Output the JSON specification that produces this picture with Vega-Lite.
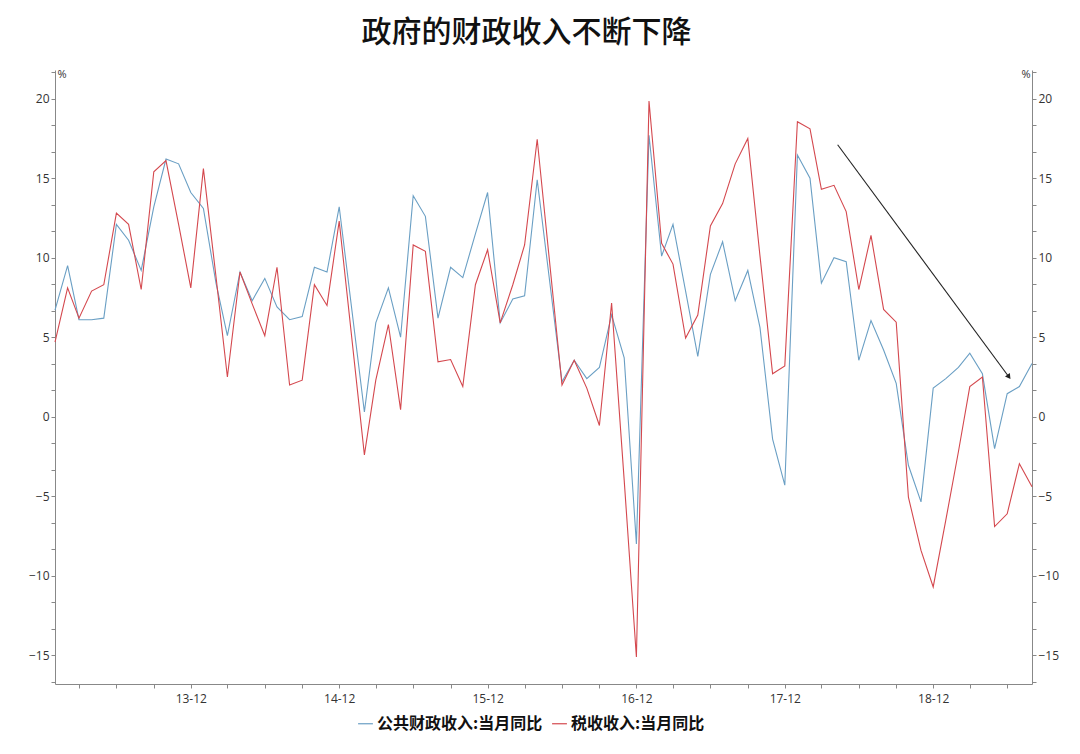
{
  "$schema": "https://vega.github.io/schema/vega-lite/v6.json",
  "width": 977,
  "height": 614,
  "autosize": {"type": "none"},
  "padding": {"left": 55, "top": 70, "right": 48, "bottom": 70},
  "background": "white",
  "title": {"text": "政府的财政收入不断下降", "font": "Noto Sans CJK SC", "fontSize": 30, "fontWeight": 500, "color": "#111111", "anchor": "middle", "dx": -17, "offset": 18},
  "datasets": {
    "series": [
      {"d": "2013-01-01", "公共财政收入:当月同比": 6.7, "税收收入:当月同比": 4.7},
      {"d": "2013-02-01", "公共财政收入:当月同比": 9.5, "税收收入:当月同比": 8.1},
      {"d": "2013-03-01", "公共财政收入:当月同比": 6.1, "税收收入:当月同比": 6.2},
      {"d": "2013-04-01", "公共财政收入:当月同比": 6.1, "税收收入:当月同比": 7.9},
      {"d": "2013-05-01", "公共财政收入:当月同比": 6.2, "税收收入:当月同比": 8.3},
      {"d": "2013-06-01", "公共财政收入:当月同比": 12.1, "税收收入:当月同比": 12.8},
      {"d": "2013-07-01", "公共财政收入:当月同比": 11.1, "税收收入:当月同比": 12.1},
      {"d": "2013-08-01", "公共财政收入:当月同比": 9.2, "税收收入:当月同比": 8.0},
      {"d": "2013-09-01", "公共财政收入:当月同比": 13.2, "税收收入:当月同比": 15.4},
      {"d": "2013-10-01", "公共财政收入:当月同比": 16.2, "税收收入:当月同比": 16.1},
      {"d": "2013-11-01", "公共财政收入:当月同比": 15.9, "税收收入:当月同比": 12.1},
      {"d": "2013-12-01", "公共财政收入:当月同比": 14.1, "税收收入:当月同比": 8.1},
      {"d": "2014-01-01", "公共财政收入:当月同比": 13.1, "税收收入:当月同比": 15.6},
      {"d": "2014-02-01", "公共财政收入:当月同比": 8.4, "税收收入:当月同比": 8.8},
      {"d": "2014-03-01", "公共财政收入:当月同比": 5.1, "税收收入:当月同比": 2.5},
      {"d": "2014-04-01", "公共财政收入:当月同比": 9.1, "税收收入:当月同比": 9.1},
      {"d": "2014-05-01", "公共财政收入:当月同比": 7.3, "税收收入:当月同比": 7.1},
      {"d": "2014-06-01", "公共财政收入:当月同比": 8.7, "税收收入:当月同比": 5.1},
      {"d": "2014-07-01", "公共财政收入:当月同比": 6.9, "税收收入:当月同比": 9.4},
      {"d": "2014-08-01", "公共财政收入:当月同比": 6.1, "税收收入:当月同比": 2.0},
      {"d": "2014-09-01", "公共财政收入:当月同比": 6.3, "税收收入:当月同比": 2.3},
      {"d": "2014-10-01", "公共财政收入:当月同比": 9.4, "税收收入:当月同比": 8.3},
      {"d": "2014-11-01", "公共财政收入:当月同比": 9.1, "税收收入:当月同比": 7.0},
      {"d": "2014-12-01", "公共财政收入:当月同比": 13.2, "税收收入:当月同比": 12.3},
      {"d": "2015-02-01", "公共财政收入:当月同比": 0.3, "税收收入:当月同比": -2.4},
      {"d": "2015-03-01", "公共财政收入:当月同比": 5.9, "税收收入:当月同比": 2.3},
      {"d": "2015-04-01", "公共财政收入:当月同比": 8.1, "税收收入:当月同比": 5.8},
      {"d": "2015-05-01", "公共财政收入:当月同比": 5.0, "税收收入:当月同比": 0.45},
      {"d": "2015-06-01", "公共财政收入:当月同比": 13.9, "税收收入:当月同比": 10.8},
      {"d": "2015-07-01", "公共财政收入:当月同比": 12.6, "税收收入:当月同比": 10.4},
      {"d": "2015-08-01", "公共财政收入:当月同比": 6.2, "税收收入:当月同比": 3.45},
      {"d": "2015-09-01", "公共财政收入:当月同比": 9.4, "税收收入:当月同比": 3.6},
      {"d": "2015-10-01", "公共财政收入:当月同比": 8.75, "税收收入:当月同比": 1.9},
      {"d": "2015-11-01", "公共财政收入:当月同比": 11.5, "税收收入:当月同比": 8.3},
      {"d": "2015-12-01", "公共财政收入:当月同比": 14.1, "税收收入:当月同比": 10.5},
      {"d": "2016-01-01", "公共财政收入:当月同比": 5.9, "税收收入:当月同比": 5.9},
      {"d": "2016-02-01", "公共财政收入:当月同比": 7.4, "税收收入:当月同比": 8.3},
      {"d": "2016-03-01", "公共财政收入:当月同比": 7.6, "税收收入:当月同比": 10.8},
      {"d": "2016-04-01", "公共财政收入:当月同比": 14.9, "税收收入:当月同比": 17.45},
      {"d": "2016-06-01", "公共财政收入:当月同比": 2.2, "税收收入:当月同比": 2.0},
      {"d": "2016-07-01", "公共财政收入:当月同比": 3.55, "税收收入:当月同比": 3.55},
      {"d": "2016-08-01", "公共财政收入:当月同比": 2.4, "税收收入:当月同比": 1.8},
      {"d": "2016-09-01", "公共财政收入:当月同比": 3.1, "税收收入:当月同比": -0.55},
      {"d": "2016-10-01", "公共财政收入:当月同比": 6.4, "税收收入:当月同比": 7.15},
      {"d": "2016-11-01", "公共财政收入:当月同比": 3.7, "税收收入:当月同比": -4.0},
      {"d": "2016-12-01", "公共财政收入:当月同比": -8.0, "税收收入:当月同比": -15.1},
      {"d": "2017-01-01", "公共财政收入:当月同比": 17.7, "税收收入:当月同比": 19.85},
      {"d": "2017-02-01", "公共财政收入:当月同比": 10.1, "税收收入:当月同比": 10.9},
      {"d": "2017-03-01", "公共财政收入:当月同比": 12.1, "税收收入:当月同比": 9.6},
      {"d": "2017-04-01", "公共财政收入:当月同比": 7.9, "税收收入:当月同比": 4.95},
      {"d": "2017-05-01", "公共财政收入:当月同比": 3.8, "税收收入:当月同比": 6.4},
      {"d": "2017-06-01", "公共财政收入:当月同比": 8.95, "税收收入:当月同比": 12.0},
      {"d": "2017-07-01", "公共财政收入:当月同比": 11.0, "税收收入:当月同比": 13.4},
      {"d": "2017-08-01", "公共财政收入:当月同比": 7.3, "税收收入:当月同比": 15.9},
      {"d": "2017-09-01", "公共财政收入:当月同比": 9.2, "税收收入:当月同比": 17.5},
      {"d": "2017-10-01", "公共财政收入:当月同比": 5.6, "税收收入:当月同比": 10.1},
      {"d": "2017-11-01", "公共财政收入:当月同比": -1.4, "税收收入:当月同比": 2.7},
      {"d": "2017-12-01", "公共财政收入:当月同比": -4.3, "税收收入:当月同比": 3.2},
      {"d": "2018-01-01", "公共财政收入:当月同比": 16.45, "税收收入:当月同比": 18.55},
      {"d": "2018-02-01", "公共财政收入:当月同比": 15.0, "税收收入:当月同比": 18.1},
      {"d": "2018-03-01", "公共财政收入:当月同比": 8.4, "税收收入:当月同比": 14.3},
      {"d": "2018-04-01", "公共财政收入:当月同比": 10.0, "税收收入:当月同比": 14.55},
      {"d": "2018-05-01", "公共财政收入:当月同比": 9.75, "税收收入:当月同比": 12.9},
      {"d": "2018-06-01", "公共财政收入:当月同比": 3.55, "税收收入:当月同比": 8.0},
      {"d": "2018-07-01", "公共财政收入:当月同比": 6.05, "税收收入:当月同比": 11.4},
      {"d": "2018-08-01", "公共财政收入:当月同比": 4.2, "税收收入:当月同比": 6.75},
      {"d": "2018-09-01", "公共财政收入:当月同比": 2.1, "税收收入:当月同比": 5.95},
      {"d": "2018-10-01", "公共财政收入:当月同比": -3.05, "税收收入:当月同比": -5.05},
      {"d": "2018-11-01", "公共财政收入:当月同比": -5.35, "税收收入:当月同比": -8.4},
      {"d": "2018-12-01", "公共财政收入:当月同比": 1.8, "税收收入:当月同比": -10.7},
      {"d": "2019-01-01", "公共财政收入:当月同比": 2.4, "税收收入:当月同比": -6.5},
      {"d": "2019-02-01", "公共财政收入:当月同比": 3.1, "税收收入:当月同比": -2.2},
      {"d": "2019-03-01", "公共财政收入:当月同比": 4.0, "税收收入:当月同比": 1.9},
      {"d": "2019-04-01", "公共财政收入:当月同比": 2.7, "税收收入:当月同比": 2.5},
      {"d": "2019-05-01", "公共财政收入:当月同比": -2.0, "税收收入:当月同比": -6.9},
      {"d": "2019-06-01", "公共财政收入:当月同比": 1.45, "税收收入:当月同比": -6.1},
      {"d": "2019-07-01", "公共财政收入:当月同比": 1.9, "税收收入:当月同比": -2.95},
      {"d": "2019-08-01", "公共财政收入:当月同比": 3.35, "税收收入:当月同比": -4.4}
    ],
    "arrow": [
      {"d": "2018-04-10", "v": 17.1, "end": false},
      {"d": "2019-06-04", "v": 2.55, "end": true}
    ]
  },
  "encoding": {
    "x": {
      "field": "d",
      "type": "temporal",
      "scale": {"type": "utc", "domain": [{"year": 2013, "month": 1, "date": 1, "utc": true}, {"year": 2019, "month": 8, "date": 1, "utc": true}]},
      "axis": {
        "title": null,
        "grid": false,
        "values": [
          {"year": 2013, "month": 3, "date": 1, "utc": true}, {"year": 2013, "month": 6, "date": 1, "utc": true}, {"year": 2013, "month": 9, "date": 1, "utc": true}, {"year": 2013, "month": 12, "date": 1, "utc": true},
          {"year": 2014, "month": 3, "date": 1, "utc": true}, {"year": 2014, "month": 6, "date": 1, "utc": true}, {"year": 2014, "month": 9, "date": 1, "utc": true}, {"year": 2014, "month": 12, "date": 1, "utc": true},
          {"year": 2015, "month": 3, "date": 1, "utc": true}, {"year": 2015, "month": 6, "date": 1, "utc": true}, {"year": 2015, "month": 9, "date": 1, "utc": true}, {"year": 2015, "month": 12, "date": 1, "utc": true},
          {"year": 2016, "month": 3, "date": 1, "utc": true}, {"year": 2016, "month": 6, "date": 1, "utc": true}, {"year": 2016, "month": 9, "date": 1, "utc": true}, {"year": 2016, "month": 12, "date": 1, "utc": true},
          {"year": 2017, "month": 3, "date": 1, "utc": true}, {"year": 2017, "month": 6, "date": 1, "utc": true}, {"year": 2017, "month": 9, "date": 1, "utc": true}, {"year": 2017, "month": 12, "date": 1, "utc": true},
          {"year": 2018, "month": 3, "date": 1, "utc": true}, {"year": 2018, "month": 6, "date": 1, "utc": true}, {"year": 2018, "month": 9, "date": 1, "utc": true}, {"year": 2018, "month": 12, "date": 1, "utc": true},
          {"year": 2019, "month": 3, "date": 1, "utc": true}, {"year": 2019, "month": 6, "date": 1, "utc": true}
        ],
        "labelExpr": "utcmonth(datum.value) == 11 ? utcFormat(datum.value, '%y-%m') : ''",
        "labelOverlap": false,
        "labelFlush": false,
        "labelFont": "Open Sans",
        "labelFontSize": 12,
        "labelColor": "#333333",
        "labelPadding": 5,
        "tickSize": 4,
        "tickColor": "#888888",
        "domainColor": "#888888"
      }
    }
  },
  "layer": [
    {
      "data": {"name": "series"},
      "transform": [{"fold": ["公共财政收入:当月同比", "税收收入:当月同比"], "as": ["s", "v"]}],
      "mark": {"type": "line", "strokeWidth": 1.1},
      "encoding": {
        "y": {
          "field": "v",
          "type": "quantitative",
          "scale": {"domain": [-16.8, 21.8], "nice": false, "zero": false},
          "axis": {
            "orient": "left",
            "grid": false,
            "values": [-16.667, -15, -13.333, -11.667, -10, -8.333, -6.667, -5, -3.333, -1.667, 0, 1.667, 3.333, 5, 6.667, 8.333, 10, 11.667, 13.333, 15, 16.667, 18.333, 20, 21.667],
            "labelExpr": "abs(datum.value / 5 - round(datum.value / 5)) < 0.001 ? format(datum.value, 'd') : ''",
            "labelOverlap": false,
            "labelFont": "Open Sans",
            "labelFontSize": 12,
            "labelColor": "#333333",
            "labelPadding": 2,
            "tickSize": 4,
            "tickColor": "#888888",
            "domainColor": "#888888",
            "title": "%",
            "titleAngle": 0,
            "titleX": 2,
            "titleY": 4,
            "titleAlign": "left",
            "titleBaseline": "middle",
            "titleFont": "Open Sans",
            "titleFontSize": 11,
            "titleFontWeight": "normal",
            "titleColor": "#333333"
          }
        },
        "color": {
          "field": "s",
          "type": "nominal",
          "scale": {"domain": ["公共财政收入:当月同比", "税收收入:当月同比"], "range": ["#6a9fc4", "#d4484e"]},
          "legend": {
            "orient": "none",
            "legendX": 302,
            "legendY": 645,
            "direction": "horizontal",
            "title": null,
            "symbolType": "stroke",
            "symbolSize": 220,
            "symbolStrokeWidth": 1.2,
            "labelFont": "Noto Sans CJK SC",
            "labelFontSize": 16,
            "labelFontWeight": "bold",
            "labelColor": "#111111",
            "labelLimit": 400,
            "columnPadding": 6,
            "labelOffset": 3,
            "padding": 0
          }
        }
      }
    },
    {
      "data": {"name": "arrow"},
      "mark": {"type": "line", "color": "#222222", "strokeWidth": 1.1},
      "encoding": {
        "y": {
          "field": "v",
          "type": "quantitative",
          "scale": {"domain": [-16.8, 21.8], "nice": false, "zero": false},
          "axis": {
            "orient": "right",
            "grid": false,
            "values": [-16.667, -15, -13.333, -11.667, -10, -8.333, -6.667, -5, -3.333, -1.667, 0, 1.667, 3.333, 5, 6.667, 8.333, 10, 11.667, 13.333, 15, 16.667, 18.333, 20, 21.667],
            "labelExpr": "abs(datum.value / 5 - round(datum.value / 5)) < 0.001 ? format(datum.value, 'd') : ''",
            "labelOverlap": false,
            "labelFont": "Open Sans",
            "labelFontSize": 12,
            "labelColor": "#333333",
            "labelPadding": 2,
            "tickSize": 4,
            "tickColor": "#888888",
            "domainColor": "#888888",
            "title": "%",
            "titleAngle": 0,
            "titleX": -2,
            "titleY": 4,
            "titleAlign": "right",
            "titleBaseline": "middle",
            "titleFont": "Open Sans",
            "titleFontSize": 11,
            "titleFontWeight": "normal",
            "titleColor": "#333333"
          }
        }
      }
    },
    {
      "data": {"name": "arrow"},
      "transform": [{"filter": "datum.end"}],
      "mark": {"type": "point", "shape": "triangle", "angle": 144, "filled": true, "color": "#222222", "size": 36, "opacity": 1},
      "encoding": {
        "y": {
          "field": "v",
          "type": "quantitative",
          "scale": {"domain": [-16.8, 21.8], "nice": false, "zero": false},
          "axis": null
        }
      }
    }
  ],
  "resolve": {"scale": {"y": "independent"}},
  "config": {"view": {"stroke": null}}
}
